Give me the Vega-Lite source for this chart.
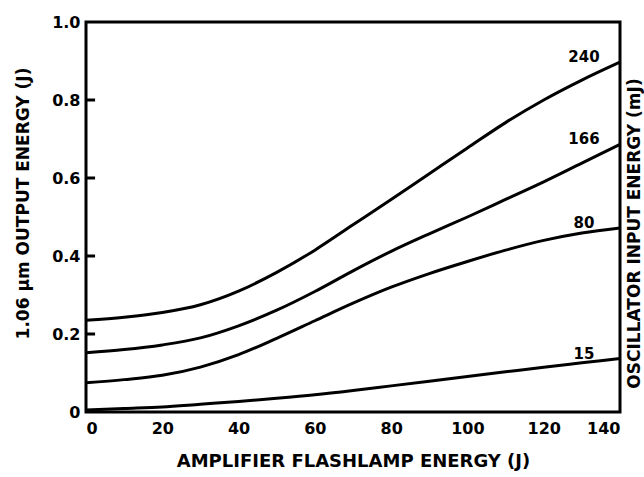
{
  "$schema": "https://vega.github.io/schema/vega-lite/v6.json",
  "width": 534,
  "height": 390,
  "autosize": {"type": "none"},
  "padding": {"left": 86, "top": 22, "right": 24, "bottom": 65},
  "background": "white",
  "config": {
    "view": {"stroke": "black", "strokeWidth": 3},
    "axis": {
      "labelFont": "DejaVu Sans",
      "labelFontWeight": "bold",
      "labelColor": "black",
      "titleFont": "DejaVu Sans",
      "titleFontWeight": "bold",
      "titleColor": "black",
      "grid": false,
      "domain": false
    }
  },
  "datasets": {
    "curves": [
      {"flash": 0, "output": 0.235, "osc": "240"},
      {"flash": 10, "output": 0.243, "osc": "240"},
      {"flash": 20, "output": 0.255, "osc": "240"},
      {"flash": 30, "output": 0.275, "osc": "240"},
      {"flash": 40, "output": 0.31, "osc": "240"},
      {"flash": 50, "output": 0.358, "osc": "240"},
      {"flash": 60, "output": 0.415, "osc": "240"},
      {"flash": 70, "output": 0.48, "osc": "240"},
      {"flash": 80, "output": 0.545, "osc": "240"},
      {"flash": 90, "output": 0.611, "osc": "240"},
      {"flash": 100, "output": 0.677, "osc": "240"},
      {"flash": 110, "output": 0.742, "osc": "240"},
      {"flash": 120, "output": 0.8, "osc": "240"},
      {"flash": 130, "output": 0.851, "osc": "240"},
      {"flash": 140, "output": 0.897, "osc": "240"},
      {"flash": 0, "output": 0.152, "osc": "166"},
      {"flash": 10, "output": 0.16, "osc": "166"},
      {"flash": 20, "output": 0.172, "osc": "166"},
      {"flash": 30, "output": 0.19, "osc": "166"},
      {"flash": 40, "output": 0.221, "osc": "166"},
      {"flash": 50, "output": 0.261, "osc": "166"},
      {"flash": 60, "output": 0.309, "osc": "166"},
      {"flash": 70, "output": 0.362, "osc": "166"},
      {"flash": 80, "output": 0.412, "osc": "166"},
      {"flash": 90, "output": 0.457, "osc": "166"},
      {"flash": 100, "output": 0.5, "osc": "166"},
      {"flash": 110, "output": 0.545, "osc": "166"},
      {"flash": 120, "output": 0.59, "osc": "166"},
      {"flash": 130, "output": 0.638, "osc": "166"},
      {"flash": 140, "output": 0.686, "osc": "166"},
      {"flash": 0, "output": 0.075, "osc": "80"},
      {"flash": 10, "output": 0.083, "osc": "80"},
      {"flash": 20, "output": 0.094, "osc": "80"},
      {"flash": 30, "output": 0.115, "osc": "80"},
      {"flash": 40, "output": 0.147, "osc": "80"},
      {"flash": 50, "output": 0.189, "osc": "80"},
      {"flash": 60, "output": 0.234, "osc": "80"},
      {"flash": 70, "output": 0.279, "osc": "80"},
      {"flash": 80, "output": 0.32, "osc": "80"},
      {"flash": 90, "output": 0.355, "osc": "80"},
      {"flash": 100, "output": 0.386, "osc": "80"},
      {"flash": 110, "output": 0.415, "osc": "80"},
      {"flash": 120, "output": 0.44, "osc": "80"},
      {"flash": 130, "output": 0.459, "osc": "80"},
      {"flash": 140, "output": 0.472, "osc": "80"},
      {"flash": 0, "output": 0.005, "osc": "15"},
      {"flash": 10, "output": 0.009, "osc": "15"},
      {"flash": 20, "output": 0.013, "osc": "15"},
      {"flash": 30, "output": 0.02, "osc": "15"},
      {"flash": 40, "output": 0.027, "osc": "15"},
      {"flash": 50, "output": 0.035, "osc": "15"},
      {"flash": 60, "output": 0.044, "osc": "15"},
      {"flash": 70, "output": 0.055, "osc": "15"},
      {"flash": 80, "output": 0.067, "osc": "15"},
      {"flash": 90, "output": 0.079, "osc": "15"},
      {"flash": 100, "output": 0.091, "osc": "15"},
      {"flash": 110, "output": 0.103, "osc": "15"},
      {"flash": 120, "output": 0.115, "osc": "15"},
      {"flash": 130, "output": 0.126, "osc": "15"},
      {"flash": 140, "output": 0.137, "osc": "15"}
    ],
    "yticks": [
      {"tick": 0.2},
      {"tick": 0.4},
      {"tick": 0.6},
      {"tick": 0.8}
    ]
  },
  "data": {"name": "curves"},
  "layer": [
    {
      "mark": {"type": "line", "interpolate": "monotone", "color": "black", "strokeWidth": 3},
      "encoding": {
        "x": {
          "field": "flash",
          "type": "quantitative",
          "scale": {"domain": [0, 140], "nice": false},
          "axis": {
            "values": [0, 20, 40, 60, 80, 100, 120, 140],
            "ticks": false,
            "labelFontSize": 16,
            "labelPadding": 8,
            "title": "AMPLIFIER FLASHLAMP ENERGY (J)",
            "titleFontSize": 18,
            "titleY": 49,
            "titleBaseline": "middle"
          }
        },
        "y": {
          "field": "output",
          "type": "quantitative",
          "scale": {"domain": [0, 1], "nice": false},
          "axis": {
            "values": [0, 0.2, 0.4, 0.6, 0.8, 1],
            "labelExpr": "datum.value == 0 ? '0' : format(datum.value, '.1f')",
            "ticks": false,
            "labelFontSize": 16,
            "labelPadding": 6,
            "title": "1.06 µm OUTPUT ENERGY (J)",
            "titleFontSize": 17,
            "titleAngle": -90,
            "titleX": -63,
            "titleY": 181,
            "titleAlign": "center",
            "titleBaseline": "middle"
          }
        },
        "detail": {"field": "osc"}
      }
    },
    {
      "data": {"name": "yticks"},
      "mark": {"type": "tick", "orient": "horizontal", "color": "black", "opacity": 1, "size": 9, "thickness": 3},
      "encoding": {
        "y": {"field": "tick", "type": "quantitative", "axis": null},
        "x": {"datum": 1.2}
      }
    },
    {
      "transform": [{"filter": "datum.flash == 140"}],
      "mark": {"type": "text", "dx": -36, "dy": -5, "font": "DejaVu Sans", "fontWeight": "bold", "fontSize": 15, "color": "black"},
      "encoding": {
        "x": {"field": "flash", "type": "quantitative"},
        "y": {
          "field": "output",
          "type": "quantitative",
          "axis": {
            "orient": "right",
            "labels": false,
            "ticks": false,
            "domain": false,
            "title": "OSCILLATOR INPUT ENERGY (mJ)",
            "titleFontSize": 17,
            "titleAngle": -90,
            "titleX": 14,
            "titleY": 211,
            "titleAlign": "center",
            "titleBaseline": "middle"
          }
        },
        "text": {"field": "osc"}
      }
    }
  ],
  "resolve": {"axis": {"y": "independent"}}
}
